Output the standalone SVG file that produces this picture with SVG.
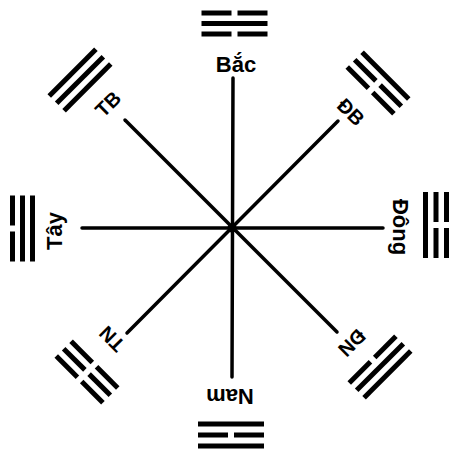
<svg xmlns="http://www.w3.org/2000/svg" width="453" height="450" viewBox="0 0 453 450">
<style>
.bg{fill:#fff}
.con line{stroke:#000;stroke-width:3.5;stroke-linecap:round}
.bar{fill:#000}
.lbl{font-family:"Liberation Sans",Arial,sans-serif;font-weight:bold;font-size:22px;fill:#000;text-anchor:middle}
.dl{font-size:20px}
</style>
<defs>
<g id="solid"><rect class="bar" x="-33" y="-2.5" width="66" height="5"/></g>
<g id="broken"><rect class="bar" x="-33" y="-2.5" width="30" height="5"/><rect class="bar" x="3" y="-2.5" width="30" height="5"/></g>
</defs>
<rect class="bg" width="453" height="450"/>
<g id="connectors" class="con">
<line x1="233" y1="78" x2="232" y2="377"/>
<line x1="82" y1="228" x2="383" y2="228"/>
<line x1="125" y1="120" x2="337" y2="332"/>
<line x1="338" y1="121" x2="127" y2="333"/>
<circle cx="232" cy="228" r="4.5" fill="#000"/>
</g>
<g id="bac">
<g transform="translate(234.5,23.5)"><use href="#broken" y="-10.5"/><use href="#solid" y="0"/><use href="#broken" y="10.5"/></g>
<text class="lbl" x="236" y="72">Bắc</text>
</g>
<g id="nam">
<g transform="translate(231,435) rotate(180)"><use href="#solid" y="-11"/><use href="#broken" y="0"/><use href="#solid" y="11"/></g>
<text class="lbl" transform="translate(230,389) rotate(180)">Nam</text>
</g>
<g id="dong">
<g transform="translate(436,225) rotate(90)"><use href="#broken" y="-10.5"/><use href="#broken" y="0"/><use href="#solid" y="10.5"/></g>
<text class="lbl" transform="translate(393,227) rotate(90)">Đông</text>
</g>
<g id="tay">
<g transform="translate(22.5,228.5) rotate(-90)"><use href="#broken" y="-10"/><use href="#solid" y="0"/><use href="#solid" y="10"/></g>
<text class="lbl" transform="translate(62,231) rotate(-90)">Tây</text>
</g>
<g id="dongbac">
<g transform="translate(378,83) rotate(45)"><use href="#solid" y="-10.5"/><use href="#broken" y="0"/><use href="#broken" y="10.5"/></g>
<text class="lbl dl" transform="translate(351,112) rotate(45)" y="7">ĐB</text>
</g>
<g id="dongnam">
<g transform="translate(380,367) rotate(135)"><use href="#solid" y="-10.5"/><use href="#solid" y="0"/><use href="#broken" y="10.5"/></g>
<text class="lbl dl" transform="translate(352,343) rotate(135)" y="7">ĐN</text>
</g>
<g id="taynam">
<g transform="translate(87,372) rotate(-135)"><use href="#broken" y="-10.5"/><use href="#broken" y="0"/><use href="#broken" y="10.5"/></g>
<text class="lbl dl" transform="translate(112,339) rotate(-135)" y="7">TN</text>
</g>
<g id="taybac">
<g transform="translate(80,80) rotate(-45)"><use href="#solid" y="-10.5"/><use href="#solid" y="0"/><use href="#solid" y="10.5"/></g>
<text class="lbl dl" transform="translate(108,104) rotate(-45)" y="7">TB</text>
</g>
</svg>
